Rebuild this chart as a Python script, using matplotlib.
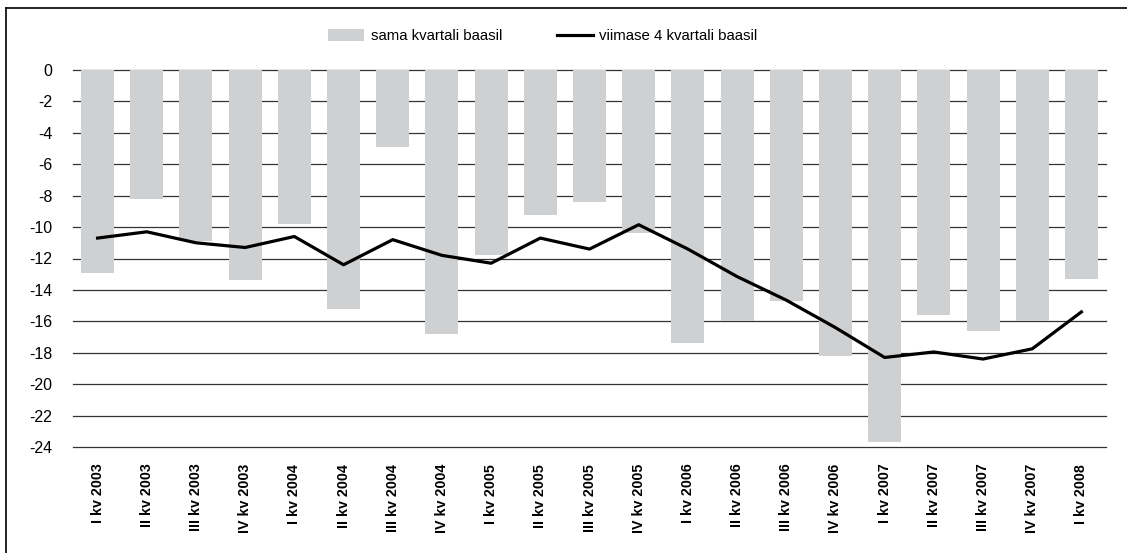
import matplotlib
matplotlib.use("Agg")
import matplotlib.pyplot as plt
from matplotlib.lines import Line2D
from matplotlib.patches import Patch

categories = ["I kv 2003", "II kv 2003", "III kv 2003", "IV kv 2003",
              "I kv 2004", "II kv 2004", "III kv 2004", "IV kv 2004",
              "I kv 2005", "II kv 2005", "III kv 2005", "IV kv 2005",
              "I kv 2006", "II kv 2006", "III kv 2006", "IV kv 2006",
              "I kv 2007", "II kv 2007", "III kv 2007", "IV kv 2007",
              "I kv 2008"]
same_quarter = [-12.9, -8.2, -10.9, -13.4, -9.8, -15.2, -4.9, -16.8,
                -11.8, -9.2, -8.4, -10.4, -17.4, -16.0, -14.7, -18.2,
                -23.7, -15.6, -16.6, -16.0, -13.3]
last_four = [-10.7, -10.3, -11.0, -11.3, -10.6, -12.4, -10.8, -11.8,
             -12.3, -10.7, -11.4, -9.85, -11.4, -13.15, -14.65, -16.4,
             -18.3, -17.95, -18.4, -17.75, -15.4]
yticks = list(range(0, -25, -2))

plt.rcParams['font.family'] = ['Liberation Sans', 'DejaVu Sans']

fig = plt.figure(figsize=(11.27, 5.53), dpi=100)
ax = fig.add_axes([73/1127, 1-447/553, (1106-73)/1127, (447-70)/553])

x = list(range(len(categories)))
ax.bar(x, same_quarter, width=0.67, color='#cfd0d2', zorder=2)
ax.plot(x, last_four, color='black', lw=2.3, zorder=3)

ax.set_xlim(-0.5, len(categories)-0.5)
ax.set_ylim(-24, 0)
ax.set_yticks(yticks)
ax.set_yticklabels([str(v) for v in yticks], fontsize=11.5)
for v in yticks:
    ax.axhline(v, color='#333333', lw=0.9, zorder=1, clip_on=False)
for s in ax.spines.values():
    s.set_visible(False)
ax.tick_params(axis='both', length=0)
ax.tick_params(axis='y', pad=15)
ax.set_xticks(x)
ax.set_xticklabels(categories, rotation=90, fontsize=10.3, fontweight='bold')
ax.tick_params(axis='x', pad=12)

handles = [Patch(facecolor='#cfd0d2', edgecolor='none'),
           Line2D([0], [0], color='black', lw=2.3)]
fig.legend(handles, ["sama kvartali baasil", "viimase 4 kvartali baasil"],
           loc='center', bbox_to_anchor=(543/1127, 1-36/553), ncol=2, frameon=False,
           fontsize=10.8, handlelength=2.4, handleheight=0.9, columnspacing=3.6,
           handletextpad=0.45)

fig.add_artist(Line2D([6/1127, 6/1127], [0, 1-8/553], color='black', lw=1.2,
                      transform=fig.transFigure))
fig.add_artist(Line2D([6/1127, 1], [1-8/553, 1-8/553], color='black', lw=1.2,
                      transform=fig.transFigure))

fig.savefig("out.png", dpi=100)
